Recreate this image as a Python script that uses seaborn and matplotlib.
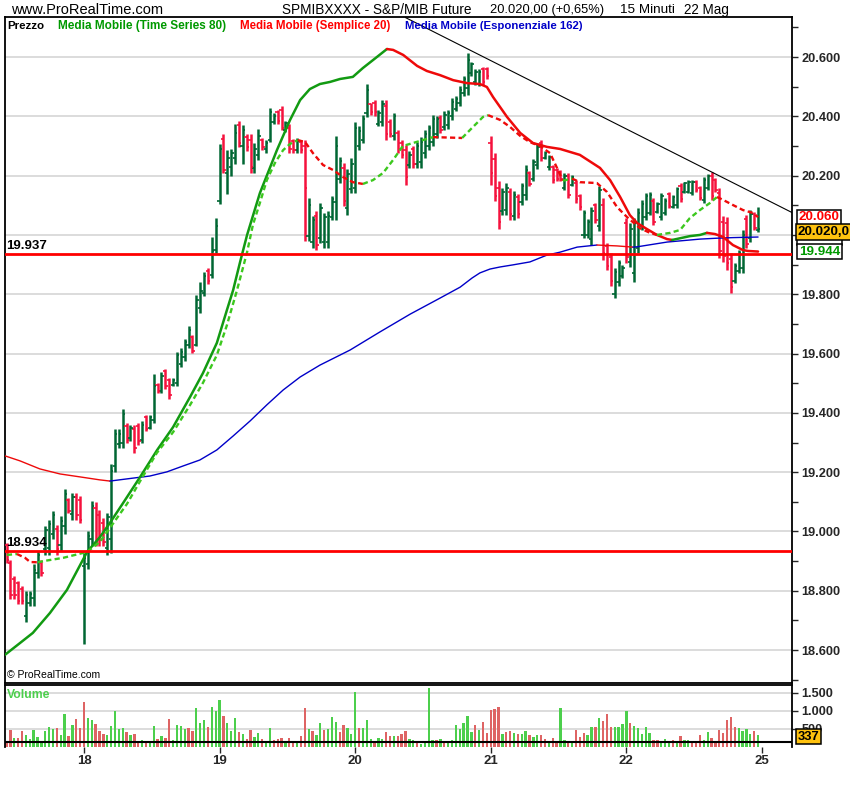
import matplotlib
matplotlib.use("Agg")
import matplotlib.pyplot as plt
import matplotlib.transforms as mtrans
from matplotlib import font_manager as fm
import seaborn as sns
import numpy as np
import pandas as pd

sns.set_style("white")
_avail = {f.name for f in fm.fontManager.ttflist}
NARROW = "Liberation Sans Narrow" if "Liberation Sans Narrow" in _avail else "Liberation Sans"
plt.rcParams["font.family"] = [NARROW, "DejaVu Sans"]

# ---------------- data (15-minute bars, S&P/MIB future) ----------------
day_ticks = [20, 55, 90, 125, 160, 195]
day_labels = ["18", "19", "20", "21", "22", "25"]

high = [
    18962, 18905, 18849, 18832, 18815, 18799, 18799, 18889, 18934, 18905,
    19018, 19040, 19068, 19023, 19052, 19144, 19113, 19130, 19130, 19119,
    18928, 19001, 19102, 19099, 19074, 19046, 19063, 19226, 19344, 19344,
    19413, 19366, 19360, 19360, 19366, 19372, 19394, 19394, 19530, 19500,
    19538, 19547, 19519, 19519, 19606, 19620, 19650, 19693, 19662, 19797,
    19840, 19875, 19890, 19993, 20058, 20308, 20341, 20288, 20291, 20373,
    20384, 20370, 20339, 20339, 20310, 20358, 20328, 20319, 20429, 20411,
    20422, 20434, 20384, 20373, 20325, 20327, 20321, 20321, 20125, 20063,
    20080, 20108, 20074, 20080, 20130, 20335, 20263, 20243, 20222, 20258,
    20382, 20366, 20404, 20510, 20445, 20454, 20420, 20454, 20454, 20390,
    20411, 20355, 20321, 20304, 20282, 20299, 20312, 20332, 20355, 20372,
    20406, 20400, 20403, 20417, 20420, 20463, 20467, 20501, 20535, 20613,
    20582, 20560, 20560, 20566, 20566, 20335, 20276, 20181, 20158, 20175,
    20158, 20147, 20139, 20175, 20237, 20215, 20256, 20310, 20321, 20282,
    20271, 20237, 20226, 20220, 20209, 20209, 20203, 20184, 20139, 20085,
    20054, 20094, 20108, 20166, 20124, 19973, 19939, 19889, 19917, 19899,
    20056, 20039, 20056, 20090, 20118, 20143, 20146, 20124, 20112, 20140,
    20124, 20146, 20135, 20163, 20174, 20180, 20185, 20185, 20185, 20165,
    20197, 20205, 20213, 20191, 20157, 20064, 20062, 19938, 19904, 19949,
    20017, 20067, 20084, 20079, 20095]
low = [
    18894, 18771, 18771, 18754, 18754, 18694, 18748, 18748, 18844, 18849,
    18922, 18922, 18973, 18922, 18934, 18990, 19063, 19040, 19040, 19027,
    18621, 18872, 18950, 18950, 18950, 18950, 18922, 18928, 19200, 19282,
    19282, 19299, 19304, 19265, 19293, 19299, 19338, 19344, 19366, 19468,
    19468, 19480, 19448, 19491, 19491, 19556, 19575, 19620, 19603, 19626,
    19738, 19794, 19834, 19856, 19939, 20105, 20209, 20139, 20198, 20240,
    20297, 20240, 20283, 20209, 20209, 20254, 20285, 20276, 20313, 20373,
    20375, 20353, 20347, 20276, 20276, 20276, 20276, 19978, 19978, 19956,
    19950, 19973, 19956, 19956, 20050, 20051, 20175, 20096, 20068, 20141,
    20141, 20288, 20310, 20398, 20406, 20402, 20368, 20366, 20321, 20330,
    20321, 20276, 20259, 20170, 20226, 20226, 20226, 20226, 20259, 20288,
    20299, 20327, 20344, 20355, 20357, 20389, 20417, 20434, 20467, 20473,
    20535, 20507, 20501, 20507, 20526, 20170, 20113, 20020, 20068, 20068,
    20052, 20052, 20057, 20102, 20119, 20164, 20181, 20222, 20248, 20256,
    20220, 20175, 20181, 20181, 20153, 20124, 20164, 20108, 20085, 19990,
    19990, 19967, 20040, 20012, 19917, 19883, 19827, 19787, 19827, 19854,
    19904, 19893, 19843, 19938, 20017, 20050, 20067, 20034, 20073, 20050,
    20067, 20090, 20090, 20090, 20112, 20140, 20140, 20135, 20146, 20118,
    20107, 20152, 20118, 20146, 19921, 19910, 19882, 19803, 19837, 19871,
    19871, 19955, 19977, 20017, 20011]
open_ = [
    18955, 18895, 18840, 18825, 18805, 18715, 18760, 18775, 18860, 18895,
    18940, 18945, 18990, 19010, 18955, 19020, 19105, 19060, 19115, 19105,
    18885, 18890, 18975, 19080, 19055, 19030, 18945, 18975, 19220, 19295,
    19300, 19355, 19315, 19345, 19355, 19310, 19385, 19350, 19375, 19495,
    19475, 19540, 19510, 19495, 19500, 19565, 19590, 19630, 19655, 19630,
    19755, 19805, 19880, 19865, 19950, 20115, 20325, 20210, 20230, 20260,
    20370, 20300, 20330, 20320, 20225, 20270, 20320, 20290, 20320, 20380,
    20415, 20420, 20355, 20360, 20318, 20285, 20315, 20300, 19995, 19975,
    20065, 19990, 19975, 19975, 20060, 20110, 20190, 20225, 20090, 20155,
    20160, 20300, 20320, 20410, 20440, 20445, 20375, 20380, 20435, 20380,
    20335, 20345, 20310, 20285, 20235, 20290, 20240, 20245, 20275, 20300,
    20315, 20340, 20395, 20365, 20370, 20400, 20425, 20445, 20480, 20495,
    20545, 20515, 20510, 20558, 20560, 20310, 20255, 20160, 20080, 20085,
    20145, 20065, 20128, 20110, 20135, 20208, 20190, 20235, 20310, 20260,
    20228, 20228, 20220, 20212, 20160, 20198, 20170, 20175, 20130, 20000,
    20000, 19985, 20100, 20030, 20100, 19962, 19925, 19800, 19840, 19860,
    20040, 19910, 19870, 19955, 20030, 20060, 20075, 20115, 20078, 20060,
    20075, 20138, 20095, 20100, 20165, 20145, 20145, 20140, 20180, 20158,
    20118, 20158, 20200, 20185, 20140, 20045, 20040, 19920, 19845, 19880,
    19890, 20055, 19990, 20070, 20015]
close = [
    18905, 18785, 18785, 18765, 18765, 18785, 18790, 18870, 18920, 18860,
    19005, 19025, 19055, 18940, 19035, 19125, 19070, 19115, 19055, 19040,
    18910, 18985, 19085, 18965, 18970, 18965, 19050, 19205, 19330, 19330,
    19395, 19310, 19350, 19280, 19305, 19360, 19345, 19385, 19490, 19475,
    19525, 19490, 19460, 19510, 19595, 19605, 19640, 19680, 19610, 19780,
    19810, 19860, 19845, 19945, 20030, 20290, 20220, 20260, 20275, 20345,
    20310, 20355, 20295, 20230, 20290, 20335, 20295, 20310, 20415, 20400,
    20385, 20360, 20378, 20290, 20288, 20318, 20285, 20160, 20100, 20050,
    19965, 20090, 20060, 20065, 20120, 20300, 20250, 20115, 20205, 20240,
    20360, 20350, 20390, 20490, 20415, 20415, 20410, 20440, 20340, 20340,
    20400, 20290, 20270, 20195, 20270, 20240, 20300, 20315, 20340, 20360,
    20390, 20390, 20355, 20405, 20410, 20450, 20460, 20490, 20525, 20590,
    20575, 20550, 20550, 20515, 20535, 20210, 20130, 20045, 20145, 20160,
    20070, 20135, 20070, 20165, 20220, 20172, 20245, 20295, 20260, 20278,
    20262, 20185, 20190, 20190, 20200, 20135, 20195, 20120, 20095, 20075,
    20045, 20080, 20050, 20150, 19940, 19895, 19845, 19875, 19905, 19890,
    19925, 20020, 20040, 20075, 20105, 20130, 20135, 20045, 20105, 20130,
    20115, 20098, 20128, 20155, 20120, 20175, 20178, 20178, 20150, 20125,
    20185, 20198, 20130, 20150, 19945, 19930, 19905, 19825, 19895, 19940,
    20000, 19970, 20070, 20025, 20020]
volume = [
    175, 480, 260, 260, 450, 340, 230, 480, 285, 175,
    450, 565, 510, 535, 340, 925, 315, 620, 785, 535,
    1258, 815, 760, 650, 450, 370, 340, 590, 1010, 510,
    535, 425, 340, 370, 175, 200, 175, 145, 590, 230,
    315, 260, 785, 200, 620, 590, 510, 535, 450, 1090,
    675, 760, 565, 1120, 1010, 1315, 870, 675, 450, 815,
    425, 370, 230, 480, 285, 395, 230, 145, 535, 200,
    230, 260, 120, 260, 120, 120, 315, 1090, 510, 450,
    340, 675, 480, 510, 840, 700, 425, 620, 535, 370,
    1535, 535, 535, 760, 230, 175, 260, 230, 425, 315,
    315, 315, 370, 450, 230, 200, 145, 90, 175, 1647,
    200, 200, 230, 145, 145, 200, 620, 510, 675, 870,
    425, 620, 480, 700, 395, 1035, 1065, 1120, 370, 425,
    450, 395, 370, 370, 450, 340, 285, 340, 340, 230,
    145, 260, 145, 1090, 200, 145, 145, 480, 285, 395,
    340, 565, 565, 815, 730, 925, 565, 565, 565, 650,
    1007, 675, 590, 535, 370, 565, 395, 200, 200, 145,
    230, 145, 200, 175, 315, 200, 200, 145, 145, 340,
    200, 425, 260, 175, 480, 395, 760, 840, 565, 535,
    450, 510, 370, 450, 337]
volume_dir = ("rrgrrggggg" "gggrggrgrr" "rggrrrgggg" "grgrrgrggr" "grrggggrrg"
              "ggrgggrggg" "rgrrggrggr" "rrgrrgrrgr" "ggrgggrrgg" "grgggrggrr"
              "grrrggrggg" "grgrgggggg" "grgrrrrrgr" "rgrggrggrr" "grrggrgrrr"
              "ggrgrrrggg" "grgggggrrg" "ggrgrggrrr" "ggrrrrrrrg" "gggrg")

# moving averages (bar position, value)
ts80_x = [-0.4, 3.5, 6.8, 11.2, 15.6, 20.8, 24.1, 26.7, 30.1, 34.5, 38.9, 43.0, 47.4, 50.7,
          54.3, 56.9, 58.5, 60.3, 62.1, 65.4, 69.8, 73.2, 75.8, 78.3, 80.9, 83.5, 86.1, 89.4,
          92.0, 95.6, 98.2, 99.8, 102.4, 106.0, 108.5, 111.9, 115.3, 118.9, 122.2, 124.0,
          125.6, 129.2, 132.6, 135.9, 139.5, 142.9, 148.0, 153.2, 155.8, 158.4, 160.9, 162.8,
          165.3, 167.9, 170.5, 171.8, 176.4, 179.0, 180.8, 182.9, 185.0, 187.5, 190.1, 191.4, 194.0]
ts80_v = [18584, 18624, 18658, 18725, 18803, 18931, 18981, 19029, 19096, 19184, 19275, 19352,
          19454, 19534, 19636, 19747, 19814, 19909, 20000, 20141, 20286, 20388, 20455, 20492,
          20509, 20516, 20526, 20533, 20563, 20600, 20627, 20624, 20607, 20570, 20553, 20539,
          20522, 20512, 20509, 20499, 20465, 20398, 20344, 20310, 20297, 20290, 20270, 20226,
          20185, 20128, 20067, 20040, 20020, 20000, 19986, 19983, 19996, 20000, 20007, 20003,
          19993, 19966, 19949, 19946, 19944]
sma20_x = [0.1, 2.7, 4.8, 6.1, 8.1, 9.9, 14.6, 17.7, 20.8, 24.1, 26.7, 31.1, 34.5, 38.8, 43.0,
           47.4, 50.7, 54.3, 56.9, 59.5, 62.1, 63.6, 65.4, 67.2, 69.3, 71.4, 73.2, 75.2, 77.1,
           79.1, 81.7, 84.3, 86.9, 89.4, 92.0, 94.6, 97.2, 99.8, 102.3, 104.9, 107.5, 110.1,
           112.7, 115.3, 117.6, 120.4, 123.0, 124.3, 127.4, 130.0, 132.6, 135.1, 137.7, 140.3,
           142.1, 143.6, 146.0, 148.0, 152.4, 155.0, 157.6, 160.2, 163.5, 166.1, 167.9, 171.3,
           173.9, 176.4, 179.0, 181.6, 183.4, 185.0, 187.5, 190.1, 192.7, 194.0]
sma20_v = [18921, 18924, 18911, 18897, 18896, 18901, 18911, 18921, 18931, 18965, 19012, 19093,
           19170, 19265, 19335, 19427, 19501, 19595, 19696, 19814, 19942, 20034, 20108, 20185,
           20243, 20286, 20307, 20320, 20313, 20276, 20236, 20219, 20195, 20178, 20172, 20185,
           20209, 20253, 20300, 20310, 20320, 20330, 20329, 20328, 20327, 20364, 20398, 20404,
           20388, 20364, 20334, 20313, 20300, 20276, 20226, 20183, 20190, 20178, 20175, 20145,
           20094, 20060, 20023, 20007, 20000, 20007, 20017, 20057, 20084, 20108, 20128, 20118,
           20101, 20084, 20074, 20060]
ema162_x = [-0.4, 3.5, 8.6, 13.8, 19.0, 24.1, 26.7, 32.7, 37.0, 41.4, 45.6, 49.9, 54.3, 58.5,
            62.9, 67.2, 71.4, 75.8, 80.9, 88.7, 96.4, 104.2, 111.9, 117.1, 120.2, 122.2, 124.8,
            127.4, 130.7, 135.1, 139.5, 142.9, 147.3, 152.4, 157.6, 161.7, 162.8, 170.5, 179.0,
            183.4, 187.5, 194.0]
ema162_v = [19255, 19238, 19211, 19194, 19184, 19174, 19170, 19180, 19187, 19201, 19221, 19241,
            19275, 19322, 19373, 19427, 19477, 19521, 19561, 19612, 19673, 19733, 19787, 19824,
            19855, 19872, 19885, 19892, 19899, 19909, 19932, 19942, 19959, 19966, 19963, 19959,
            19960, 19976, 19986, 19989, 19991, 19993]
trend_x = [103.0, 203.0]
trend_v = [20733, 20074]
support_levels = [19937, 18934]
last_price, last_sma, last_ema, last_ts, last_vol = 20020, 20060, 19993, 19944, 337

# ---------------- figure / layout ----------------
W, H = 850, 800
fig = plt.figure(figsize=(W / 100, H / 100), dpi=100, facecolor="white")
fx = lambda px: px / W
fy = lambda py: 1 - py / H
ax = fig.add_axes([fx(5), fy(683), fx(792) - fx(5), fy(17) - fy(683)])
axv = fig.add_axes([fx(5), fy(747), fx(792) - fx(5), fy(685) - fy(747)], sharex=ax)

XMIN, XMAX = -0.39, 202.76
YMIN, YMAX = 18489, 20735

BAR_G, BAR_R = "#006633", "#f5123d"
MA_G, MA_R, MA_LG, MA_B = "#129a12", "#ee0a0a", "#3cc81e", "#0000c8"

# grid
for v in range(18600, 20800, 200):
    ax.axhline(v, color="#d9d9d9", lw=1.3, zorder=0)
for v in (500, 1000, 1500):
    axv.axhline(v, color="#d9d9d9", lw=1.3, zorder=0)

# support lines
for lv in support_levels:
    ax.axhline(lv, color="#ff0000", lw=2.0, zorder=6)
    ax.text(-0.1, lv + 6, f"{lv/1000:.3f}", ha="left", va="bottom", fontsize=9.5,
            fontweight="bold", color="black", zorder=7)

# OHLC bars
idx = np.arange(len(close))
o = np.array(open_); c = np.array(close)
bcol = np.where(c >= o, BAR_G, BAR_R)
ax.vlines(idx, low, high, colors=bcol, lw=1.8, zorder=3)
ax.hlines(o, idx - 0.6, idx, colors=bcol, lw=1.2, zorder=3)
ax.hlines(c, idx, idx + 0.6, colors=bcol, lw=1.2, zorder=3)


def slope_plot(axis, xs, vs, up_c, dn_c, **kw):
    xs = np.asarray(xs, float); vs = np.asarray(vs, float)
    rising = np.diff(vs) >= 0
    start = 0
    n = len(rising)
    for i in range(1, n + 1):
        if i == n or rising[i] != rising[start]:
            seg = slice(start, i + 1)
            df = pd.DataFrame({"x": xs[seg], "y": vs[seg]})
            sns.lineplot(data=df, x="x", y="y", ax=axis, sort=False, estimator=None,
                         color=up_c if rising[start] else dn_c, legend=False, **kw)
            start = i


slope_plot(ax, ema162_x, ema162_v, MA_B, MA_R, lw=1.0, zorder=4)
slope_plot(ax, ts80_x, ts80_v, MA_G, MA_R, lw=1.8, zorder=5)
slope_plot(ax, sma20_x, sma20_v, MA_LG, MA_R, lw=1.7, zorder=5, dashes=(2.2, 1.4))

sns.lineplot(x=trend_x, y=trend_v, ax=ax, color="black", lw=0.8, zorder=6)

ax.set_xlim(XMIN, XMAX)
ax.set_ylim(YMIN, YMAX)
ax.set_xlabel(""); ax.set_ylabel("")

# volume
vcol = ["#4ccf4c" if d == "g" else "#de6464" for d in volume_dir]
axv.bar(idx, volume, width=0.6, color=vcol, linewidth=0, antialiased=False, zorder=2)
axv.axhline(140, color="black", lw=1.5, zorder=3)
axv.set_ylim(0, 1722)

# axes styling
for a in (ax, axv):
    for s in a.spines.values():
        s.set_color("black"); s.set_linewidth(1.3)
    a.yaxis.tick_right()
    a.tick_params(axis="y", direction="out", length=4, width=1, pad=3, labelsize=9.2,
                  right=True, left=False)
axv.spines["bottom"].set_visible(False)

ticks = list(range(18500, 20800, 100))
ax.set_yticks(ticks)
ax.set_yticklabels([f"{t/1000:.3f}" if (t % 200 == 0 and t != 20000) else "" for t in ticks],
                   fontweight="bold")
ax.tick_params(axis="x", bottom=False, labelbottom=False)
axv.set_yticks([500, 1000, 1500])
axv.set_yticklabels(["500", "1.000", "1.500"], fontweight="bold")
axv.set_xticks(day_ticks)
axv.set_xticklabels(day_labels, fontweight="bold")
axv.tick_params(axis="x", direction="out", length=4, width=1, pad=2, labelsize=9.5, bottom=True)
axv.set_xlim(XMIN, XMAX)

# right value tags
tr = mtrans.blended_transform_factory(ax.transAxes, ax.transData)
def tag(axis, trans, v, txt, fc, tc, x=1.0085, fs=9.6):
    return axis.text(x, v, txt, transform=trans, ha="left", va="center", fontsize=fs,
                     fontweight="bold", color=tc, zorder=20, clip_on=False,
                     bbox=dict(boxstyle="square,pad=0.12", fc=fc, ec="black", lw=1.1))

tag(ax, tr, last_sma, f"{last_sma/1000:.3f}", "white", "#ff0000")
tag(ax, tr, last_ema, f"{last_ema/1000:.3f}", "white", "#0000c8")
tag(ax, tr, last_ts, f"{last_ts/1000:.3f}", "white", "#009900")
tag(ax, tr, last_price - 10, "20.020,0", "#ffc20e", "black", x=1.0065)
trv = mtrans.blended_transform_factory(axv.transAxes, axv.transData)
tag(axv, trv, 290, str(last_vol), "#ffc20e", "black", x=1.0075, fs=9.4)

# panel texts
t_copy = ax.text(0.002, 0.004, "© ProRealTime.com", transform=ax.transAxes, ha="left",
                 va="bottom", fontsize=8.5, color="black", zorder=8)
t_vol = axv.text(0.003, 0.93, "Volume", transform=axv.transAxes, ha="left", va="top",
                 fontsize=9.5, fontweight="bold", color="#4ccf4c", zorder=8)

# header (x positions and widths in pixels, as in the reference)
header = [("www.ProRealTime.com", 11, 151, 11.5, "normal", "black", 10),
          ("SPMIBXXXX - S&P/MIB Future", 282, 189, 11.5, "normal", "black", 10),
          ("20.020,00 (+0,65%)", 490, 113, 11.5, "normal", "black", 10),
          ("15 Minuti", 620, 55, 11.5, "normal", "black", 10),
          ("22 Mag", 684, 45, 11.5, "normal", "black", 10),
          ("Prezzo", 7, 37, 9.5, "bold", "black", 26),
          ("Media Mobile (Time Series 80)", 58, 168, 9.5, "bold", "#009900", 26),
          ("Media Mobile (Semplice 20)", 240, 150, 9.5, "bold", "#ff0000", 26),
          ("Media Mobile (Esponenziale 162)", 405, 178, 9.5, "bold", "#0000c8", 26)]
fitted = []
for txt, x0, wpx, fs, fw, col, y0 in header:
    t = fig.text(fx(x0), fy(y0), txt, ha="left", va="center", fontsize=fs, fontweight=fw, color=col)
    fitted.append((t, wpx))
fitted.append((t_copy, 93))
fitted.append((t_vol, 43))

fig.canvas.draw()
rend = fig.canvas.get_renderer()
for t, wpx in fitted:
    w = t.get_window_extent(rend).width
    if w > 0:
        t.set_fontsize(t.get_fontsize() * wpx / w)

fig.savefig("out.png", dpi=100, facecolor="white")
